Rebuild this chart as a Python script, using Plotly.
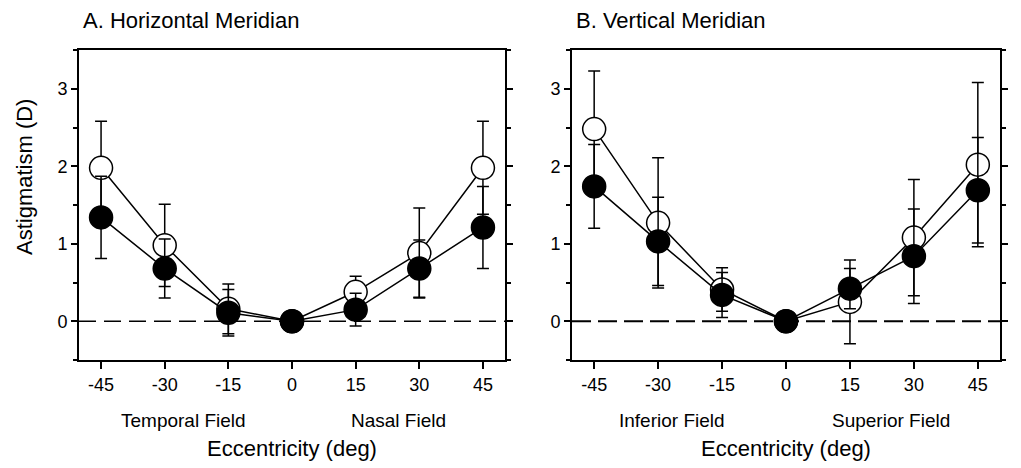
import plotly.graph_objects as go

W, H = 1021, 468

ecc = [-45, -30, -15, 0, 15, 30, 45]
x_ticks = [-45, -30, -15, 0, 15, 30, 45]
y_ticks = [0, 1, 2, 3]

# A. Horizontal meridian
h_open = [1.98, 0.98, 0.16, 0.0, 0.38, 0.88, 1.98]
h_open_err = [0.60, 0.53, 0.32, 0.0, 0.20, 0.58, 0.60]
h_filled = [1.34, 0.68, 0.11, 0.0, 0.15, 0.68, 1.21]
h_filled_err = [0.53, 0.38, 0.30, 0.0, 0.21, 0.37, 0.53]

# B. Vertical meridian
v_open = [2.48, 1.27, 0.41, 0.0, 0.25, 1.08, 2.02]
v_open_err = [0.75, 0.84, 0.28, 0.0, 0.54, 0.75, 1.06]
v_filled = [1.74, 1.03, 0.34, 0.0, 0.42, 0.84, 1.69]
v_filled_err = [0.54, 0.57, 0.29, 0.0, 0.26, 0.61, 0.68]

titles = ["A. Horizontal Meridian", "B. Vertical Meridian"]
field_labels = [("Temporal Field", -25.5, "Nasal Field", 25), ("Inferior Field", -26.8, "Superior Field", 24.7)]

FONT = "Liberation Sans, Arial, sans-serif"

fig = go.Figure()

def add_pair(xa, ya, y_o, e_o, y_f, e_f):
    common = dict(x=ecc, xaxis=xa, yaxis=ya, mode="lines+markers", showlegend=False,
                  line=dict(color="black", width=1.5))
    fig.add_trace(go.Scatter(y=y_o, **common,
                             marker=dict(symbol="circle", size=23, color="white",
                                         line=dict(color="black", width=1.5)),
                             error_y=dict(type="data", array=e_o, visible=True,
                                          color="black", thickness=1.5, width=6)))
    fig.add_trace(go.Scatter(y=y_f, **common,
                             marker=dict(symbol="circle", size=23, color="black",
                                         line=dict(color="black", width=1.5)),
                             error_y=dict(type="data", array=e_f, visible=True,
                                          color="black", thickness=1.5, width=6)))

add_pair("x", "y", h_open, h_open_err, h_filled, h_filled_err)
add_pair("x2", "y2", v_open, v_open_err, v_filled, v_filled_err)

left_px = [(79, 505), (572, 1000)]
dash_styles = [(1.5, "17px,8px"), (2, "19px,7px")]
top_px, bot_px = 50, 360
ydom = [1 - bot_px / H, 1 - top_px / H]

axis_font = dict(family=FONT, size=18, color="black")

for i, (l, r) in enumerate(left_px):
    suffix = "" if i == 0 else "2"
    fig.layout["xaxis" + suffix] = dict(
        domain=[l / W, r / W], range=[-50.2, 50.2], tickvals=x_ticks,
        ticktext=[str(t) for t in x_ticks],
        ticks="outside", ticklen=7, tickwidth=1.5, tickcolor="black",
        showline=True, linecolor="black", linewidth=2, mirror=True,
        showgrid=False, zeroline=False, tickfont=axis_font,
        anchor="y" + suffix, fixedrange=True)
    fig.layout["yaxis" + suffix] = dict(
        domain=ydom, range=[-0.5, 3.5], tickvals=y_ticks,
        ticks="outside", ticklen=6, tickwidth=1.5, tickcolor="black",
        showline=True, linecolor="black", linewidth=2, mirror="ticks",
        minor=dict(dtick=0.5, tick0=0, ticks="outside", ticklen=4, tickwidth=1.5, tickcolor="black"),
        showgrid=False, zeroline=False, tickfont=axis_font,
        anchor="x" + suffix, fixedrange=True)
    # dashed zero line
    dw, dd = dash_styles[i]
    fig.add_shape(type="line", xref=("x" + suffix + " domain"), yref="y" + suffix,
                  x0=0, x1=1, y0=0, y1=0, layer="below",
                  line=dict(color="black", width=dw, dash=dd))
    # panel title
    fig.add_annotation(text=titles[i], xref="paper", yref="paper",
                       x=(l + 2) / W, y=1 - 21 / H, xanchor="left", yanchor="middle",
                       showarrow=False, font=dict(family=FONT, size=22, color="black"))
    # field labels
    a, ax, b, bx = field_labels[i]
    for txt, xv in ((a, ax), (b, bx)):
        fig.add_annotation(text=txt, xref="x" + suffix, yref="paper", x=xv, y=1 - 420 / H,
                           xanchor="center", yanchor="middle", showarrow=False,
                           font=dict(family=FONT, size=19, color="black"))
    # x axis title
    fig.add_annotation(text="Eccentricity (deg)", xref="x" + suffix, yref="paper", x=0,
                       y=1 - 448 / H, xanchor="center", yanchor="middle", showarrow=False,
                       font=dict(family=FONT, size=22, color="black"))

fig.add_annotation(text="Astigmatism (D)", xref="paper", yref="paper", x=24 / W,
                   y=1 - 177 / H, textangle=-90, xanchor="center", yanchor="middle",
                   showarrow=False, font=dict(family=FONT, size=22, color="black"))

fig.update_layout(width=W, height=H, margin=dict(l=0, r=0, t=0, b=0, autoexpand=False),
                  paper_bgcolor="white", plot_bgcolor="white",
                  font=dict(family=FONT, color="black"))

fig.write_html("out.html", config={"displayModeBar": False},
               post_script="document.body.style.margin='0';document.body.style.overflow='hidden';")
